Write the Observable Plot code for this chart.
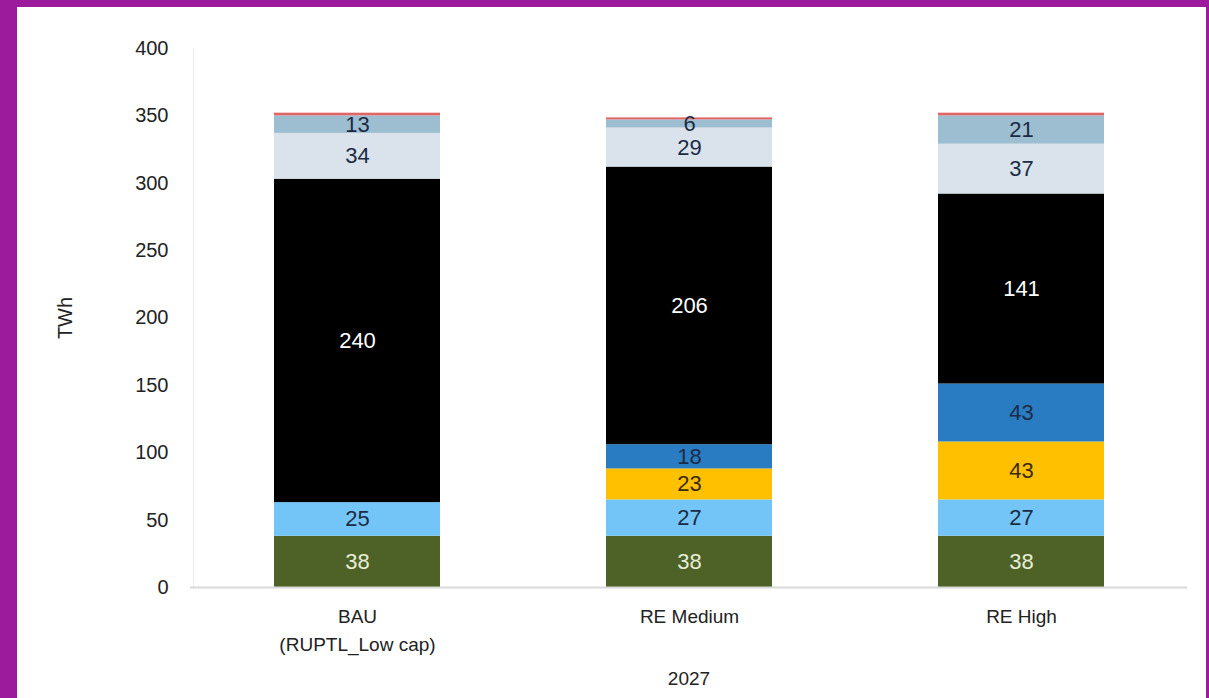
<!DOCTYPE html>
<html>
<head>
<meta charset="utf-8">
<script src="https://cdn.jsdelivr.net/npm/d3@7"></script>
<script src="https://cdn.jsdelivr.net/npm/@observablehq/plot@0.6"></script>
<style>
  html, body { margin: 0; padding: 0; background: #9c1a9c; }
  #frame { position: absolute; left: 17px; top: 7px; width: 1189px; height: 691px; background: #ffffff; }
  #chart { position: absolute; left: 0; top: 0; width: 1209px; height: 698px; }
  #chart svg { font-family: "Liberation Sans", Arial, sans-serif; }
</style>
</head>
<body>
<div id="frame"></div>
<div id="chart"></div>
<script>
const scenarios = ["BAU\n(RUPTL_Low cap)", "RE Medium", "RE High"];
const sources = ["Geothermal", "Hydro", "Solar PV", "Wind", "Coal", "Gas CCGT", "Gas OCGT", "Oil"];
const colors = ["#4e6228", "#72c5f6", "#ffc000", "#2a7cc2", "#000000", "#dae3ec", "#9dbdd0", "#e06666"];
const labelColors = ["#e6eed6", "#1c2b44", "#3a2a10", "#1c2b44", "#ffffff", "#1c2b44", "#1c2b44", "#1c2b44"];
const bauValues = [38, 25, 0, 0, 240, 34, 13, 2];
const reMediumValues = [38, 27, 23, 18, 206, 29, 6, 1.5];
const reHighValues = [38, 27, 43, 43, 141, 37, 21, 2];
const yTicks = [0, 50, 100, 150, 200, 250, 300, 350, 400];
const xGroupLabel = "2027";
const yLabel = "TWh";

const seriesValues = [bauValues, reMediumValues, reHighValues];
const rows = [];
scenarios.forEach((sc, i) => {
  sources.forEach((src, j) => {
    rows.push({scenario: sc, source: src, value: seriesValues[i][j], idx: j});
  });
});
const labelRows = rows.filter(d => d.value >= 5);

const plot = Plot.plot({
  width: 1209,
  height: 698,
  marginTop: 48,
  marginBottom: 111,
  marginLeft: 190,
  marginRight: 22,
  style: {fontFamily: "Liberation Sans, Arial, sans-serif", background: "transparent"},
  x: {domain: scenarios, paddingInner: 0.5, paddingOuter: 0.25, label: null},
  y: {domain: [0, 400], label: null},
  color: {domain: sources, range: colors},
  marks: [
    Plot.frame({anchor: "left", stroke: "#ececec", dx: 3}),
    Plot.barY(rows, Plot.stackY({x: "scenario", y: "value", fill: "source", order: sources})),
    Plot.ruleY([0], {stroke: "#d9d9d9", strokeWidth: 2}),
    Plot.text(labelRows, Plot.stackY({
      x: "scenario", y: "value", text: d => String(d.value), order: sources, z: "source",
      fill: d => labelColors[d.idx], fontSize: 22
    })),
    Plot.axisY({ticks: yTicks, tickSize: 0, tickPadding: 22, fontSize: 20, fill: "#222", label: null}),
    Plot.axisX({tickSize: 0, tickPadding: 16, fontSize: 19, fill: "#222", label: null, lineHeight: 1.45}),
    Plot.text([yLabel], {frameAnchor: "left", dx: -125, rotate: -90, textAnchor: "middle", fontSize: 20, fill: "#222"}),
    Plot.text([xGroupLabel], {frameAnchor: "bottom", dy: 97, fontSize: 19, fill: "#222"})
  ]
});
document.getElementById("chart").appendChild(plot);
</script>
</body>
</html>
